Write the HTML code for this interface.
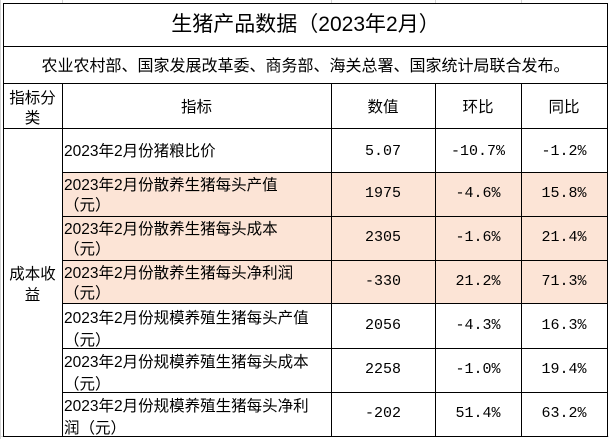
<!DOCTYPE html>
<html><head><meta charset="utf-8"><style>
body{margin:0;width:609px;height:439px;background:#fff;position:relative;overflow:hidden;font-family:"Liberation Sans","Noto Sans CJK SC",sans-serif;color:#000}
.h{position:absolute;height:1px;background:#000}
.v{position:absolute;width:1px;background:#000}
.g{position:absolute;background:#d4d4d4}
.pk{position:absolute;background:#fce4d6}
.t{position:absolute;font-size:15.5px;line-height:18px;white-space:nowrap}
.c{text-align:center}
.n{font-family:"Liberation Mono","Noto Sans CJK SC",monospace;font-size:15px}
</style></head><body>
<div class="g" style="left:0;top:0;width:1px;height:439px"></div>
<div class="g" style="left:62px;top:0;width:1px;height:3px"></div>
<div class="g" style="left:331px;top:0;width:1px;height:3px"></div>
<div class="g" style="left:435px;top:0;width:1px;height:3px"></div>
<div class="g" style="left:521px;top:0;width:1px;height:3px"></div>
<div class="g" style="left:0;top:436px;width:609px;height:1px"></div>

<div class="pk" style="left:63px;top:173px;width:544px;height:130px"></div>

<div class="h" style="left:3px;top:3px;width:605px"></div>
<div class="h" style="left:3px;top:46px;width:605px"></div>
<div class="h" style="left:3px;top:83px;width:605px"></div>
<div class="h" style="left:3px;top:128px;width:605px"></div>
<div class="h" style="left:62px;top:172px;width:546px"></div>
<div class="h" style="left:62px;top:216px;width:546px"></div>
<div class="h" style="left:62px;top:260px;width:546px"></div>
<div class="h" style="left:62px;top:303px;width:546px"></div>
<div class="h" style="left:62px;top:348px;width:546px"></div>
<div class="h" style="left:62px;top:392px;width:546px"></div>
<div class="h" style="left:3px;top:436px;width:605px"></div>

<div class="v" style="left:3px;top:3px;height:434px"></div>
<div class="v" style="left:607px;top:3px;height:434px"></div>
<div class="v" style="left:62px;top:84px;height:353px"></div>
<div class="v" style="left:331px;top:84px;height:353px"></div>
<div class="v" style="left:435px;top:84px;height:353px"></div>
<div class="v" style="left:521px;top:84px;height:353px"></div>

<div class="t c" style="left:3px;width:605px;top:12px;font-size:21px;line-height:26px">生猪产品数据（2023年2月）</div>
<div class="t c" style="left:3px;width:605px;top:58px;font-size:16px">农业农村部、国家发展改革委、商务部、海关总署、国家统计局联合发布。</div>

<div class="t c" style="left:3px;width:59px;top:89px;white-space:normal;line-height:20px">指标分<br>类</div>
<div class="t c" style="left:62px;width:269px;top:99px">指标</div>
<div class="t c" style="left:331px;width:104px;top:99px">数值</div>
<div class="t c" style="left:435px;width:86px;top:99px">环比</div>
<div class="t c" style="left:521px;width:86px;top:99px">同比</div>

<div class="t c" style="left:3px;width:59px;top:264px;line-height:21px">成本收<br>益</div>

<div class="t" style="left:64px;top:143px">2023年2月份猪粮比价</div>
<div class="t" style="left:64px;top:176px;line-height:20px">2023年2月份散养生猪每头产值<br>（元）</div>
<div class="t" style="left:64px;top:220px;line-height:20px">2023年2月份散养生猪每头成本<br>（元）</div>
<div class="t" style="left:64px;top:264px;line-height:20px">2023年2月份散养生猪每头净利润<br>（元）</div>
<div class="t" style="left:64px;top:308px;line-height:22px">2023年2月份规模养殖生猪每头产值<br>（元）</div>
<div class="t" style="left:64px;top:352px;line-height:22px">2023年2月份规模养殖生猪每头成本<br>（元）</div>
<div class="t" style="left:64px;top:396px;line-height:22px">2023年2月份规模养殖生猪每头净利<br>润（元）</div>

<div class="t c n" style="left:331px;width:104px;top:143px">5.07</div>
<div class="t c n" style="left:331px;width:104px;top:185px">1975</div>
<div class="t c n" style="left:331px;width:104px;top:229px">2305</div>
<div class="t c n" style="left:331px;width:104px;top:273px">-330</div>
<div class="t c n" style="left:331px;width:104px;top:317px">2056</div>
<div class="t c n" style="left:331px;width:104px;top:361px">2258</div>
<div class="t c n" style="left:331px;width:104px;top:405px">-202</div>

<div class="t c n" style="left:435px;width:86px;top:143px">-10.7%</div>
<div class="t c n" style="left:435px;width:86px;top:185px">-4.6%</div>
<div class="t c n" style="left:435px;width:86px;top:229px">-1.6%</div>
<div class="t c n" style="left:435px;width:86px;top:273px">21.2%</div>
<div class="t c n" style="left:435px;width:86px;top:317px">-4.3%</div>
<div class="t c n" style="left:435px;width:86px;top:361px">-1.0%</div>
<div class="t c n" style="left:435px;width:86px;top:405px">51.4%</div>

<div class="t c n" style="left:521px;width:86px;top:143px">-1.2%</div>
<div class="t c n" style="left:521px;width:86px;top:185px">15.8%</div>
<div class="t c n" style="left:521px;width:86px;top:229px">21.4%</div>
<div class="t c n" style="left:521px;width:86px;top:273px">71.3%</div>
<div class="t c n" style="left:521px;width:86px;top:317px">16.3%</div>
<div class="t c n" style="left:521px;width:86px;top:361px">19.4%</div>
<div class="t c n" style="left:521px;width:86px;top:405px">63.2%</div>
</body></html>
